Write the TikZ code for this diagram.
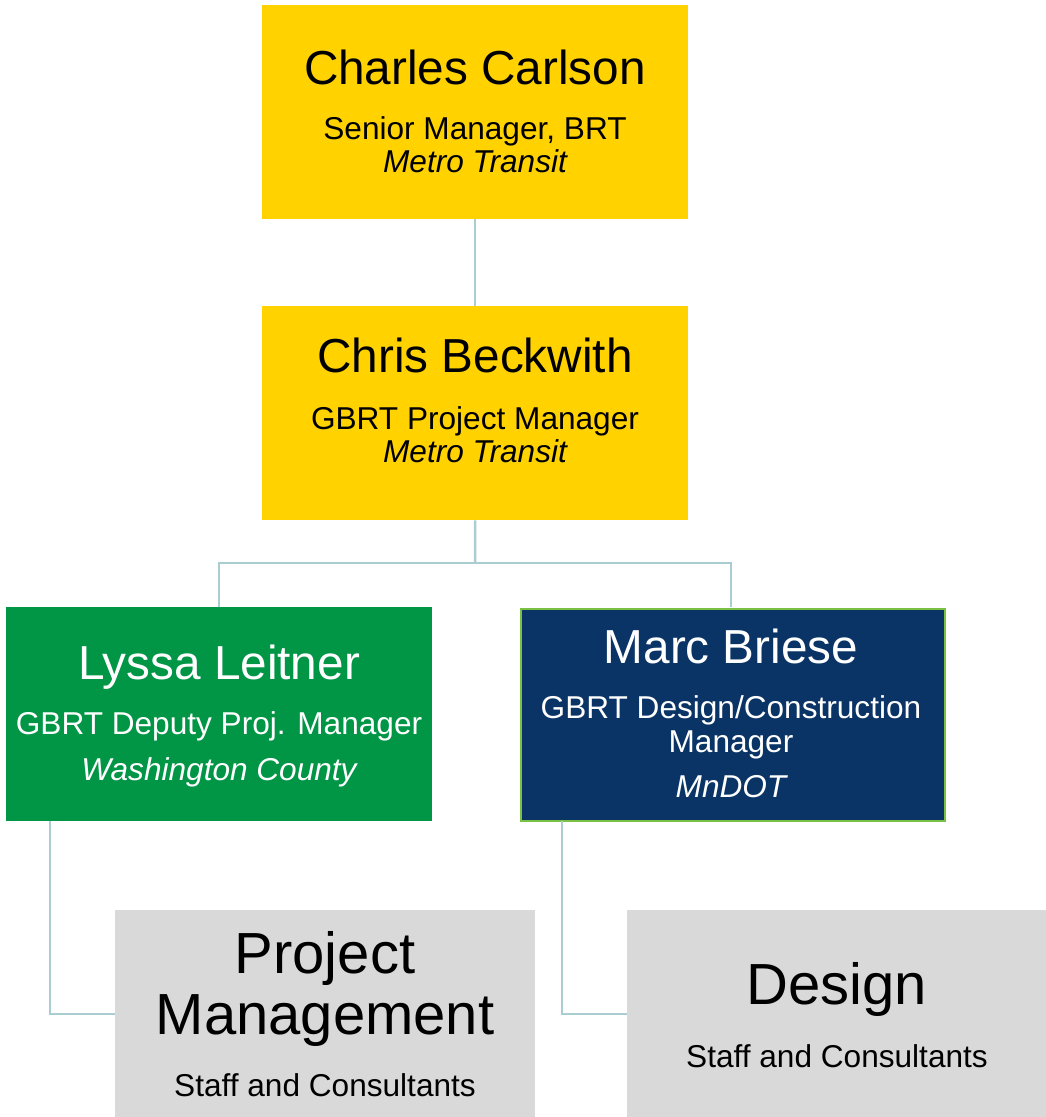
\documentclass[tikz,border=0pt]{standalone}
\usepackage{fontspec}
\setmainfont{Liberation Sans}
\definecolor{ylw}{HTML}{FFD200}
\definecolor{grn}{HTML}{009645}
\definecolor{navy}{HTML}{0B3466}
\definecolor{lgrn}{HTML}{7AC143}
\definecolor{gry}{HTML}{D9D9D9}
\definecolor{conn}{HTML}{A9CDD0}
\begin{document}
\begin{tikzpicture}[x=1pt,y=-1pt,
  box/.style={draw=none,minimum width=426pt,minimum height=214pt,inner sep=0pt,anchor=north west},
  link/.style={draw=conn,line width=2.5pt},
  txt/.style={anchor=base,inner sep=0pt},
  nm/.style={txt,font=\fontsize{47.7}{52}\selectfont},
  sb/.style={txt,font=\fontsize{31.6}{34}\selectfont},
  big/.style={txt,font=\fontsize{58}{62}\selectfont}]
\useasboundingbox (0,0) rectangle (1046,1117);
% boxes
\node[box,fill=ylw] (cc) at (262,5) {};
\node[box,fill=ylw] (cb) at (262,306) {};
\node[box,fill=grn] (ll) at (6,607) {};
\node[box,fill=navy,draw=lgrn,line width=2pt,minimum width=424pt,minimum height=212pt] (mb) at (520,608) {};
\node[box,fill=gry,minimum width=420pt,minimum height=220pt] (pm) at (115,910) {};
\node[box,fill=gry,minimum width=420pt,minimum height=220pt] (ds) at (627,910) {};
% connectors
\coordinate (j1) at (475,563);
\draw[link] (cc.south) -- (cb.north);
\draw[link] (cb.south) -- (j1);
\draw[link] (219,607) |- (j1) -| (731,607);
\draw[link] (50,821) |- (115,1014);
\draw[link] (562,821) |- (627,1014);
% texts
\node[nm] (t1) at (475,84) {Charles Carlson};
\node[sb] (t2) at (475,139) {Senior Manager, BRT};
\node[sb] (t3) at (475,172) {\itshape Metro Transit};
\node[nm] (t4) at (475,372) {Chris Beckwith};
\node[sb] (t5) at (475,429) {GBRT Project Manager};
\node[sb] (t6) at (475,462) {\itshape Metro Transit};
\node[nm,text=white] (t7) at (219,679) {Lyssa Leitner};
\node[sb,text=white] (t8) at (219,734) {GBRT Deputy Proj. Manager};
\node[sb,text=white] (t9) at (219,780) {\itshape Washington County};
\node[nm,text=white] (t10) at (731,663) {Marc Briese};
\node[sb,text=white] (t11) at (731,718) {GBRT Design/Construction};
\node[sb,text=white] (t12) at (731,752) {Manager};
\node[sb,text=white] (t13) at (731,797) {\itshape MnDOT};
\node[big] (t14) at (325,973) {Project};
\node[big] (t15) at (325,1034) {Management};
\node[sb] (t16) at (325,1096) {Staff and Consultants};
\node[big] (t17) at (837,1004) {Design};
\node[sb] (t18) at (837,1067) {Staff and Consultants};
\end{tikzpicture}
\end{document}
